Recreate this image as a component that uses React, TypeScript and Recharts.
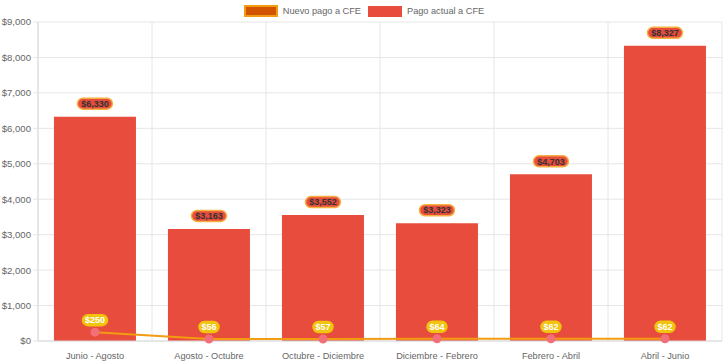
import { ComposedChart, Bar, Line, XAxis, YAxis, CartesianGrid, LabelList } from 'recharts';

const periodos = ['Junio - Agosto', 'Agosto - Octubre', 'Octubre - Diciembre', 'Diciembre - Febrero', 'Febrero - Abril', 'Abril - Junio'];
const pagoActual = [6330, 3163, 3552, 3323, 4703, 8327];
const nuevoPago = [250, 56, 57, 64, 62, 62];
const yTicks = [0, 1000, 2000, 3000, 4000, 5000, 6000, 7000, 8000, 9000];

const data = periodos.map((p, i) => ({ periodo: p, actual: pagoActual[i], nuevo: nuevoPago[i] }));

const FONT = '"Liberation Sans", Arial, sans-serif';
const money = (v) => '$' + Number(v).toLocaleString('en-US');

const Pill = ({ x, y, width, value, fill, stroke, color, dy }) => {
  const cx = width !== undefined ? x + width / 2 : x;
  const txt = money(value);
  const w = txt.length * 5 + 5;
  const cy = y - dy;
  return (
    <g>
      <rect x={cx - w / 2} y={cy - 5.5} width={w} height={11} rx={5.5} ry={5.5} fill={fill} stroke={stroke} strokeWidth={1.5} />
      <text x={cx} y={cy + 3.2} textAnchor="middle" fontSize={9} fontWeight="bold" fontFamily={FONT} fill={color}>{txt}</text>
    </g>
  );
};

const boundaries = ({ offset }) => {
  const out = [];
  for (let i = 0; i <= periodos.length; i++) out.push(offset.left + (i * offset.width) / periodos.length);
  return out;
};

export default function App() {
  return (
    <div style={{ position: 'absolute', left: 0, top: 0, width: 728, height: 363, background: '#fff', fontFamily: FONT }}>
      <div style={{ position: 'absolute', top: 5, left: 0, width: 728, display: 'flex', justifyContent: 'center', fontSize: 9.2, color: '#666', lineHeight: '12px' }}>
        <span style={{ display: 'flex', alignItems: 'center', marginRight: 7 }}>
          <span style={{ width: 30, height: 8, background: '#d35400', border: '2px solid #f39c12', marginRight: 5 }} />
          Nuevo pago a CFE
        </span>
        <span style={{ display: 'flex', alignItems: 'center' }}>
          <span style={{ width: 34, height: 11, background: '#e74c3c', marginRight: 5 }} />
          Pago actual a CFE
        </span>
      </div>
      <ComposedChart width={728} height={363} data={data} margin={{ top: 22, right: 6, bottom: 0, left: 0 }} barCategoryGap="14%">
        <CartesianGrid stroke="#e6e6e6" verticalCoordinatesGenerator={boundaries} />
        <XAxis dataKey="periodo" height={22} tickLine={false} axisLine={{ stroke: '#d9d9d9' }} tick={{ fontSize: 9.2, fill: '#666', fontFamily: FONT }} tickMargin={5} interval={0} />
        <YAxis domain={[0, 9000]} ticks={yTicks} width={38} tickFormatter={money} tickLine={{ stroke: '#e6e6e6' }} tickSize={5} axisLine={{ stroke: '#d9d9d9' }} tick={{ fontSize: 9.6, fill: '#666', fontFamily: FONT }} tickMargin={2} />
        <Bar dataKey="actual" fill="#e74c3c" isAnimationActive={false}>
          <LabelList dataKey="actual" content={(p) => <Pill {...p} fill="#e74c3c" stroke="#f5b041" color="#333" dy={13} />} />
        </Bar>
        <Line dataKey="nuevo" stroke="#f39c12" strokeWidth={2} dot={{ r: 3.5, fill: '#f1707a', stroke: '#f1707a' }} isAnimationActive={false}>
          <LabelList dataKey="nuevo" content={(p) => <Pill {...p} width={undefined} fill="#f1c40f" stroke="#f1c40f" color="#fff" dy={12} />} />
        </Line>
      </ComposedChart>
    </div>
  );
}
